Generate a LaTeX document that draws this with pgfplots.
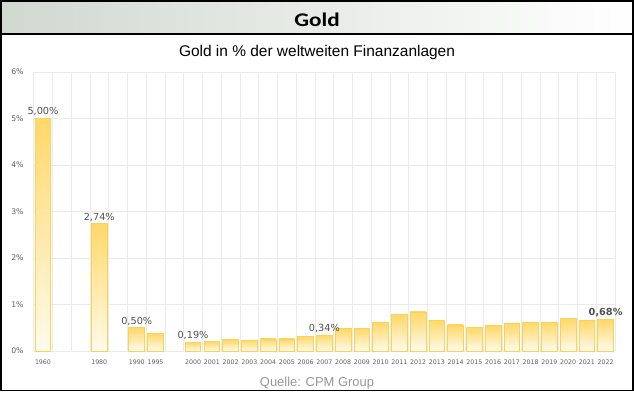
\documentclass[border=0pt]{standalone}
\usepackage{pgfplots}
\pgfplotsset{compat=1.18}
\usepackage{fontspec}
\setmainfont{Liberation Sans}
\newfontfamily\dejavu{DejaVu Sans}
\newfontfamily\arial{Liberation Sans}
\newfontfamily\calibri{Carlito}
\definecolor{bandL}{RGB}{208,216,208}
\definecolor{barTop}{RGB}{255,216,105}
\definecolor{barBot}{RGB}{255,251,236}
\definecolor{barEdge}{RGB}{250,210,85}
\definecolor{gridc}{RGB}{234,234,234}
\definecolor{tickc}{RGB}{95,95,95}
\definecolor{labc}{RGB}{80,80,80}
\definecolor{srcc}{RGB}{150,150,150}
\pgfplotsset{mybar/.style={draw=barEdge, line width=0.6pt, top color=barTop, bottom color=barBot}}
\begin{document}
\begin{tikzpicture}
\path[use as bounding box] (0pt,0pt) rectangle (475.5pt,-294pt);
\shade[left color=bandL, right color=white] (0pt,0pt) rectangle (475.5pt,-25.5pt);
\draw[line width=0.9pt] (0pt,-25.5pt) -- (475.5pt,-25.5pt);
\node[font=\calibri\bfseries\fontsize{14.5}{16}\selectfont, anchor=base, xscale=1.2, inner sep=0pt] at (237.75pt,-20pt) {Gold};
\node[font=\arial\fontsize{11.6}{13}\selectfont, anchor=base, inner sep=0pt] at (237.75pt,-42.75pt) {Gold in \% der weltweiten Finanzanlagen};
\node[font=\arial\fontsize{9.7}{11}\selectfont, text=srcc, anchor=base, inner sep=0pt] at (237.75pt,-290pt) {Quelle: CPM Group};
\begin{axis}[
  at={(25.2pt,-263.25pt)}, anchor=south west,
  scale only axis, width=436.05pt, height=209.25pt,
  xmin=-0.5, xmax=30.5, ymin=0, ymax=6,
  enlarge x limits=false,
  axis line style={draw=none},
  tick style={draw=none},
  xtick={0,3,5,6,8,9,10,11,12,13,14,15,16,17,18,19,20,21,22,23,24,25,26,27,28,29,30},
  xticklabels={1960,1980,1990,1995,2000,2001,2002,2003,2004,2005,2006,2007,2008,2009,2010,2011,2012,2013,2014,2015,2016,2017,2018,2019,2020,2021,2022},
  minor xtick={-0.5,0.5,...,30.5},
  xminorgrids, minor grid style={gridc, line width=0.5pt},
  ytick={0,1,2,3,4,5,6},
  yticklabels={0\%,1\%,2\%,3\%,4\%,5\%,6\%},
  ymajorgrids, major grid style={gridc, line width=0.5pt},
  x tick label style={font=\dejavu\fontsize{4.7}{5}\selectfont, text=tickc, yshift=1pt},
  y tick label style={font=\dejavu\fontsize{5.8}{6}\selectfont, text=tickc, xshift=-4pt},
  ybar, bar width=11.8pt, bar shift=0pt,
  point meta=explicit symbolic,
  nodes near coords,
  nodes near coords style={font=\dejavu\fontsize{7.3}{8}\selectfont, text=labc, inner sep=1.5pt},
]
\addplot[mybar] coordinates {(0,5.00)[5,00\%]};
\addplot[mybar] coordinates {(3,2.74)[2,74\%]};
\addplot[mybar] coordinates {(5,0.50)[0,50\%]};
\addplot[mybar] coordinates {(6,0.37)[]};
\addplot[mybar] coordinates {(8,0.19)[0,19\%]};
\addplot[mybar] coordinates {(9,0.20)[]};
\addplot[mybar] coordinates {(10,0.24)[]};
\addplot[mybar] coordinates {(11,0.23)[]};
\addplot[mybar] coordinates {(12,0.26)[]};
\addplot[mybar] coordinates {(13,0.26)[]};
\addplot[mybar] coordinates {(14,0.32)[]};
\addplot[mybar] coordinates {(15,0.34)[0,34\%]};
\addplot[mybar] coordinates {(16,0.48)[]};
\addplot[mybar] coordinates {(17,0.49)[]};
\addplot[mybar] coordinates {(18,0.62)[]};
\addplot[mybar] coordinates {(19,0.79)[]};
\addplot[mybar] coordinates {(20,0.84)[]};
\addplot[mybar] coordinates {(21,0.66)[]};
\addplot[mybar] coordinates {(22,0.56)[]};
\addplot[mybar] coordinates {(23,0.51)[]};
\addplot[mybar] coordinates {(24,0.54)[]};
\addplot[mybar] coordinates {(25,0.60)[]};
\addplot[mybar] coordinates {(26,0.62)[]};
\addplot[mybar] coordinates {(27,0.62)[]};
\addplot[mybar] coordinates {(28,0.70)[]};
\addplot[mybar] coordinates {(29,0.65)[]};
\addplot[mybar] coordinates {(30,0.68)[\textbf{0,68\%}]};
\end{axis}
\draw[line width=1.2pt] (0.6pt,-0.6pt) rectangle (474.9pt,-292.8pt);
\end{tikzpicture}
\end{document}
